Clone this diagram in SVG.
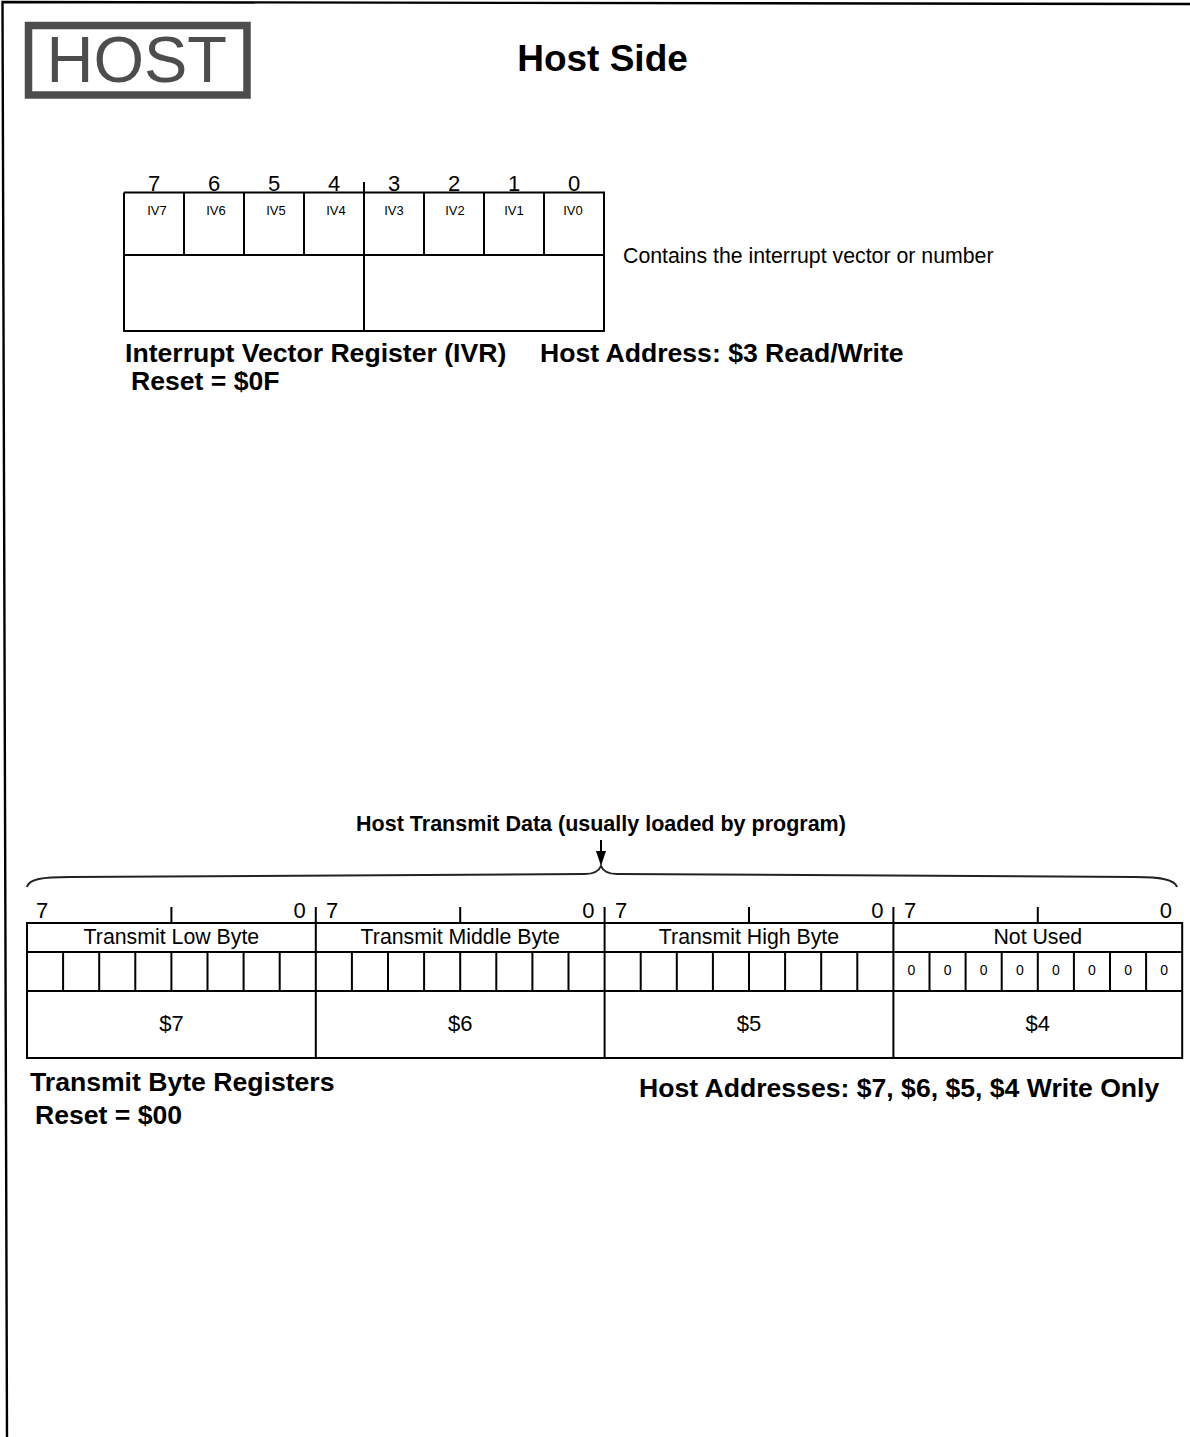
<svg xmlns="http://www.w3.org/2000/svg" width="1190" height="1437" viewBox="0 0 1190 1437">
<style>
  .ln{stroke:#000;stroke-width:2;fill:none}
  .t{font-family:"Liberation Sans",Arial,sans-serif;fill:#000}
  .b{font-weight:bold}
  .bitno{font-size:22px}
  .iv{font-size:13px;text-anchor:middle}
  .lbl{font-size:21.3px}
  .big{font-size:26.6px;font-weight:bold}
  .mid{text-anchor:middle}
  .end{text-anchor:end}
  .z{font-size:14px;text-anchor:middle}
</style>
<rect x="0" y="0" width="1190" height="1437" fill="#fff"/>
<polyline points="7,1437 2.5,2 1190,4" fill="none" stroke="#000" stroke-width="2.4"/>

<g id="host-badge">
  <rect x="28.5" y="25.5" width="218.5" height="69.5" fill="none" stroke="#4d4d4d" stroke-width="7.5"/>
  <text x="46.5" y="82" font-family="Liberation Sans,Arial,sans-serif" font-size="65" fill="#4d4d4d">HOST</text>
</g>

<g id="title">
  <text class="t b mid" x="602.5" y="71" font-size="37">Host Side</text>
</g>

<g id="ivr-register">
  <path class="ln" d="M124,192.5 H604 V331 H123 M124,192.5 V331 M123,255 H604 M364,182 V331 M184,192.5 V255 M244,192.5 V255 M304,192.5 V255 M424,192.5 V255 M484,192.5 V255 M544,192.5 V255"/>
  <g class="t bitno mid">
    <text x="154" y="190.5">7</text><text x="214" y="190.5">6</text><text x="274" y="190.5">5</text><text x="334" y="190.5">4</text>
    <text x="394" y="190.5">3</text><text x="454" y="190.5">2</text><text x="514" y="190.5">1</text><text x="574" y="190.5">0</text>
  </g>
  <g class="t iv">
    <text x="157" y="215">IV7</text><text x="216" y="215">IV6</text><text x="276" y="215">IV5</text><text x="336" y="215">IV4</text>
    <text x="394" y="215">IV3</text><text x="455" y="215">IV2</text><text x="514" y="215">IV1</text><text x="573" y="215">IV0</text>
  </g>
  <text class="t lbl" x="623" y="263">Contains the interrupt vector or number</text>
  <text class="t big" x="125" y="362">Interrupt Vector Register (IVR)</text>
  <text class="t big" x="540" y="362">Host Address: $3 Read/Write</text>
  <text class="t big" x="131" y="390">Reset = $0F</text>
</g>

<g id="transmit-heading">
  <text class="t b mid" x="601" y="831" font-size="21.5">Host Transmit Data (usually loaded by program)</text>
</g>

<g id="connectors">
  <path d="M27,887 C29,879 42,877 70,877 L585,874 C594,874 599,871 601,866 C603,871 608,874 617,874 L1135,877 C1163,877 1175,880 1177,887" fill="none" stroke="#222" stroke-width="2"/>
  <line x1="601" y1="840" x2="601" y2="854" stroke="#000" stroke-width="2"/>
  <path d="M596,851 L606,851 L601,866 Z" fill="#000"/>
</g>

<g id="transmit-register">
  <path class="ln" d="M27,923 H1182.2 V1058 H27 Z M27,952 H1182.2 M27,991 H1182.2 M315.8,907 V1058 M604.6,907 V1058 M893.4,907 V1058 M171.4,907 V923 M460.2,907 V923 M749,907 V923 M1037.8,907 V923"/>
  <path class="ln" d="M63.1,952 V991 M99.2,952 V991 M135.3,952 V991 M171.4,952 V991 M207.5,952 V991 M243.6,952 V991 M279.7,952 V991 M351.9,952 V991 M388,952 V991 M424.1,952 V991 M460.2,952 V991 M496.3,952 V991 M532.4,952 V991 M568.5,952 V991 M640.7,952 V991 M676.8,952 V991 M712.9,952 V991 M749,952 V991 M785.1,952 V991 M821.2,952 V991 M857.3,952 V991 M929.5,952 V991 M965.6,952 V991 M1001.7,952 V991 M1037.8,952 V991 M1073.9,952 V991 M1110,952 V991 M1146.1,952 V991"/>
  <g class="t bitno">
    <text x="36" y="918">7</text><text class="end" x="305.8" y="918">0</text>
    <text x="326" y="918">7</text><text class="end" x="594.6" y="918">0</text>
    <text x="615" y="918">7</text><text class="end" x="883.4" y="918">0</text>
    <text x="904" y="918">7</text><text class="end" x="1172" y="918">0</text>
  </g>
  <g class="t lbl mid">
    <text x="171.4" y="944">Transmit Low Byte</text>
    <text x="460.2" y="944">Transmit Middle Byte</text>
    <text x="749" y="944">Transmit High Byte</text>
    <text x="1037.8" y="944">Not Used</text>
  </g>
  <g class="t z">
    <text x="911.5" y="975">0</text><text x="947.6" y="975">0</text><text x="983.7" y="975">0</text><text x="1019.8" y="975">0</text>
    <text x="1055.9" y="975">0</text><text x="1092" y="975">0</text><text x="1128.1" y="975">0</text><text x="1164.2" y="975">0</text>
  </g>
  <g class="t bitno mid">
    <text x="171.4" y="1031">$7</text><text x="460.2" y="1031">$6</text><text x="749" y="1031">$5</text><text x="1037.8" y="1031">$4</text>
  </g>
  <text class="t big" x="30" y="1091">Transmit Byte Registers</text>
  <text class="t big" x="35" y="1124">Reset = $00</text>
  <text class="t big" x="639" y="1097">Host Addresses: $7, $6, $5, $4 Write Only</text>
</g>
</svg>
